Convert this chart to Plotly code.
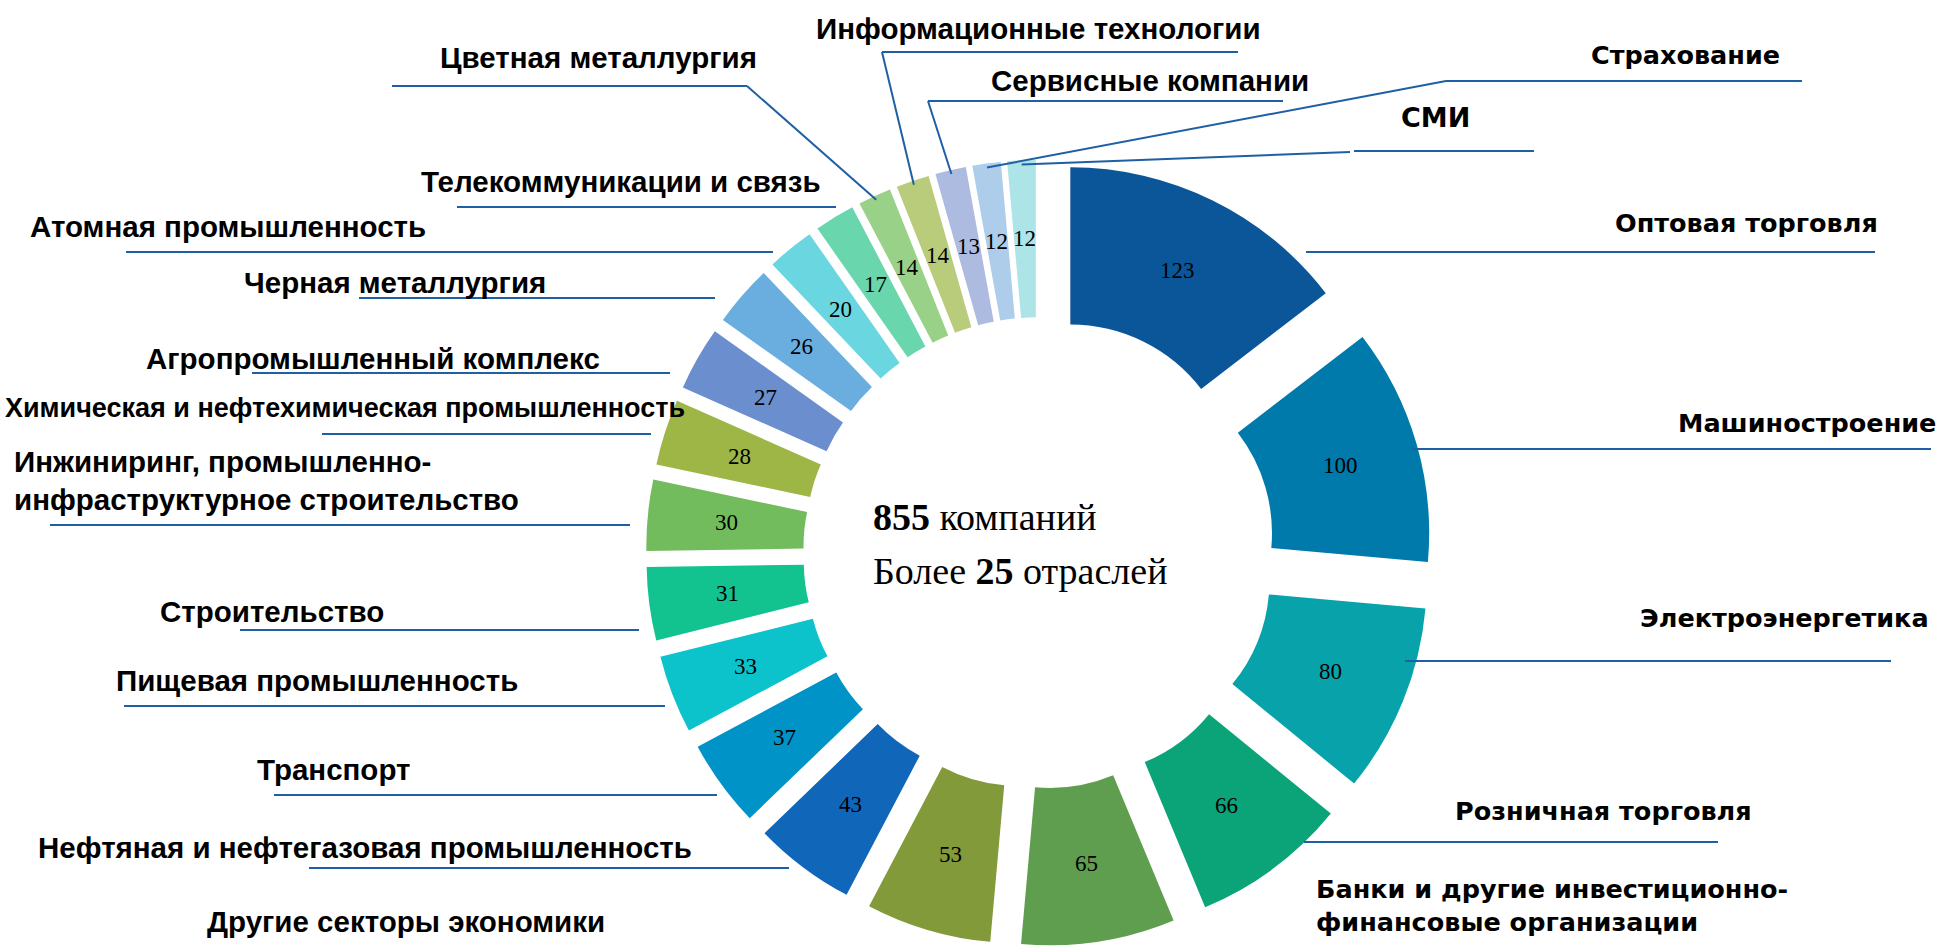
import math
import plotly.graph_objects as go

# ---------------- data ----------------
sectors = [
    "Оптовая торговля", "Машиностроение", "Электроэнергетика", "Розничная торговля",
    "Банки и другие инвестиционно-<br>финансовые организации", "Другие секторы экономики",
    "Нефтяная и нефтегазовая промышленность", "Транспорт", "Пищевая промышленность",
    "Строительство", "Инжиниринг, промышленно-<br>инфраструктурное строительство",
    "Химическая и нефтехимическая промышленность", "Агропромышленный комплекс",
    "Черная металлургия", "Атомная промышленность", "Телекоммуникации и связь",
    "Цветная металлургия", "Информационные технологии", "Сервисные компании",
    "Страхование", "СМИ",
]
companies = [123, 100, 80, 66, 65, 53, 43, 37, 33, 31, 30, 28, 27, 26, 20, 17, 14, 14, 13, 12, 12]
slice_colors = [
    "#0B5699", "#0079AB", "#08A3AA", "#0BA378", "#5E9E4E", "#829A3A", "#1066B8",
    "#0093C8", "#0CC3CB", "#12C38F", "#72BC5E", "#9DB645", "#6A8ECE", "#6AAEDF",
    "#6AD6DF", "#6AD6AD", "#9AD189", "#B8CC7C", "#ADBBE0", "#ADCDEB", "#ADE4E8",
]
total_companies = 855
total_sectors = 25

# ---------------- layout constants ----------------
W, H = 1938, 946
PIE_CX = 1039
PIE_BOX = 786
PULL = 0.22
HOLE = 0.512
LINE_COLOR = "#1F5FA3"
LEFT_FONT = "Liberation Sans, Arial, sans-serif"
RIGHT_FONT = "DejaVu Sans, Verdana, sans-serif"
SERIF = "Liberation Serif, DejaVu Serif, serif"
LS = 29.5   # left label size
RS = 25.5   # right label size


def px(x):
    return x / W


def py(y):
    return 1 - y / H


# label placement: sector index, x, y, xanchor, font family, size, underline (x0, x1, y), leader end
label_layout = [
    (16, 598, 57, "center", LEFT_FONT, LS, (392, 747, 86), "end"),
    (17, 1038, 28, "center", LEFT_FONT, LS, (882, 1238, 52), "start"),
    (18, 1150, 81, "center", LEFT_FONT, LS, (928, 1283, 101), "start"),
    (15, 621, 182, "center", LEFT_FONT, LS, (457, 836, 207), None),
    (14, 228, 226, "center", LEFT_FONT, LS, (126, 773, 252), None),
    (13, 395, 282, "center", LEFT_FONT, LS, (359, 715, 298), None),
    (12, 373, 358, "center", LEFT_FONT, LS, (252, 670, 373), None),
    (11, 345, 408, "center", LEFT_FONT, 27, (322, 651, 434), None),
    (10, 12, 480, "left", LEFT_FONT, LS, (50, 630, 525), None),
    (9, 272, 611, "center", LEFT_FONT, LS, (240, 639, 630), None),
    (8, 317, 680, "center", LEFT_FONT, LS, (124, 665, 706), None),
    (7, 333, 769, "center", LEFT_FONT, LS, (274, 717, 795), None),
    (6, 365, 847, "center", LEFT_FONT, LS, (309, 789, 868), None),
    (5, 406, 921, "center", LEFT_FONT, LS, None, None),
    (19, 1685, 55, "center", RIGHT_FONT, RS, (1446, 1802, 81), "start"),
    (20, 1435, 118, "center", RIGHT_FONT, 27, (1354, 1534, 151), "cut"),
    (0, 1746, 223, "center", RIGHT_FONT, RS, (1306, 1875, 252), None),
    (1, 1807, 423, "center", RIGHT_FONT, RS, (1412, 1931, 449), None),
    (2, 1784, 618, "center", RIGHT_FONT, RS, (1405, 1891, 661), None),
    (3, 1603, 811, "center", RIGHT_FONT, RS, (1304, 1718, 842), None),
    (4, 1314, 905, "left", RIGHT_FONT, RS, None, None),
]

# ---------------- pie ----------------
fig = go.Figure()
fig.add_trace(go.Pie(
    labels=sectors,
    values=companies,
    textinfo="none",
    marker=dict(colors=slice_colors, line=dict(width=0)),
    sort=False,
    direction="clockwise",
    rotation=0,
    hole=HOLE,
    pull=[PULL] * len(companies),
    showlegend=False,
    hoverinfo="label+value",
    domain=dict(x=[px(PIE_CX - 400), px(PIE_CX + 400)], y=[0, PIE_BOX / H]),
))

# pie geometry in pixels (mirrors plotly's own sizing) for value labels and leaders
r_out = (PIE_BOX / 2) / (1 + PULL)
cy_pix = H - PIE_BOX / 2
total = sum(companies)
cum = 0
anchors = []
mids = []
for v in companies:
    theta = math.radians((cum + v / 2) / total * 360)
    rad = r_out * (1 + PULL) - 4
    anchors.append((PIE_CX + rad * math.sin(theta), cy_pix - rad * math.cos(theta)))
    rmid = r_out * ((1 + HOLE) / 2 + PULL)
    mids.append((PIE_CX + rmid * math.sin(theta), cy_pix - rmid * math.cos(theta)))
    cum += v

shapes = []
annotations = []

# value labels inside the slices
for v, (mx, my) in zip(companies, mids):
    annotations.append(dict(
        x=px(mx), y=py(my), xref="paper", yref="paper", xanchor="center", yanchor="middle",
        text=str(v), showarrow=False, font=dict(family=SERIF, size=23, color="black"),
    ))

for idx, x, y, anchor, fam, size, uline, leader in label_layout:
    annotations.append(dict(
        x=px(x), y=py(y), xref="paper", yref="paper", xanchor=anchor, yanchor="middle",
        text="<b>" + sectors[idx].replace("<br>", "</b><br><b>") + "</b>",
        showarrow=False, align="left",
        font=dict(family=fam, size=size, color="black"),
    ))
    if uline:
        x0, x1, yl = uline
        shapes.append(dict(type="line", xref="paper", yref="paper",
                           x0=px(x0), x1=px(x1), y0=py(yl), y1=py(yl),
                           line=dict(color=LINE_COLOR, width=2)))
        if leader:
            ax, ay = anchors[idx]
            if leader == "start":
                sx, sy = x0, yl
            elif leader == "end":
                sx, sy = x1, yl
            else:
                sx, sy = x0 - 4, yl + 1
            shapes.append(dict(type="line", xref="paper", yref="paper",
                               x0=px(sx), x1=px(ax), y0=py(sy), y1=py(ay),
                               line=dict(color=LINE_COLOR, width=2)))

# centre text
annotations.append(dict(
    x=px(871), y=py(517), xref="paper", yref="paper", xanchor="left", yanchor="middle",
    text=f"<b>{total_companies}</b> компаний", showarrow=False,
    font=dict(family=SERIF, size=38, color="black"),
))
annotations.append(dict(
    x=px(871), y=py(571), xref="paper", yref="paper", xanchor="left", yanchor="middle",
    text=f"Более <b>{total_sectors}</b> отраслей", showarrow=False,
    font=dict(family=SERIF, size=38, color="black"),
))

fig.update_layout(
    width=W, height=H,
    margin=dict(l=0, r=0, t=0, b=0),
    paper_bgcolor="white", plot_bgcolor="white",
    shapes=shapes, annotations=annotations,
)

fig.write_html("out.html", config={"displayModeBar": False},
               post_script="document.body.style.margin='0px';")
